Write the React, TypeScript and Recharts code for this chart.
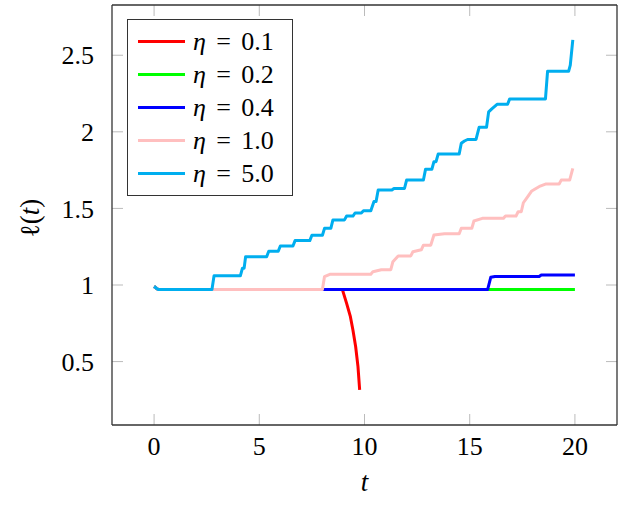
import { LineChart, Line, XAxis, YAxis, Legend, ReferenceLine } from "recharts";

// legend labels, ticks
const ETA_LABELS = ["0.1", "0.2", "0.4", "1.0", "5.0"];
const X_TICKS = [0, 5, 10, 15, 20];
const Y_TICKS = [0.5, 1, 1.5, 2, 2.5];
const X_DOMAIN: [number, number] = [-2, 22];
const Y_DOMAIN: [number, number] = [0.086, 2.828];

// [t, l(t)]
const ETA_01: [number, number][] = [
  [0, 0.99], [0.2, 0.97], [8.95, 0.97], [9.15, 0.88], [9.33, 0.793],
  [9.45, 0.706], [9.58, 0.597], [9.69, 0.467], [9.77, 0.315],
];

const ETA_02: [number, number][] = [
  [0, 0.99], [0.2, 0.97], [20, 0.97],
];

const ETA_04: [number, number][] = [
  [0, 0.99], [0.2, 0.97], [15.85, 0.97], [16.0, 1.05], [16.2, 1.055],
  [18.3, 1.055], [18.4, 1.065], [20, 1.065],
];

const ETA_10: [number, number][] = [
  [0, 0.99], [0.2, 0.97], [8.0, 0.97], [8.1, 1.055], [8.35, 1.07],
  [10.3, 1.07], [10.4, 1.087], [10.8, 1.1], [11.25, 1.1], [11.35, 1.152],
  [11.6, 1.19], [12.2, 1.19], [12.3, 1.217], [12.7, 1.23], [12.8, 1.26],
  [13.15, 1.26], [13.3, 1.326], [13.8, 1.335], [14.5, 1.335], [14.6, 1.37],
  [15.1, 1.37], [15.2, 1.418], [15.6, 1.435], [16.6, 1.435], [16.7, 1.45],
  [17.2, 1.45], [17.3, 1.478], [17.45, 1.478], [17.55, 1.537], [17.7, 1.566],
  [17.95, 1.614], [18.35, 1.646], [18.6, 1.659], [19.25, 1.659], [19.35, 1.685],
  [19.75, 1.685], [19.9, 1.762],
];

const ETA_50: [number, number][] = [
  [0, 0.99], [0.2, 0.97], [2.75, 0.97], [2.85, 1.06], [4.1, 1.06],
  [4.2, 1.11], [4.28, 1.11], [4.35, 1.185], [5.35, 1.185], [5.45, 1.22],
  [5.9, 1.22], [6.0, 1.255], [6.6, 1.255], [6.7, 1.29], [7.4, 1.29],
  [7.5, 1.325], [8.0, 1.325], [8.1, 1.37], [8.4, 1.37], [8.5, 1.425],
  [9.05, 1.425], [9.15, 1.45], [9.45, 1.45], [9.55, 1.47], [9.85, 1.47],
  [9.95, 1.485], [10.3, 1.485], [10.45, 1.545], [10.55, 1.545], [10.65, 1.62],
  [11.3, 1.62], [11.4, 1.63], [11.9, 1.63], [12.0, 1.685], [12.8, 1.685],
  [12.9, 1.755], [13.2, 1.755], [13.3, 1.805], [13.4, 1.805], [13.5, 1.855],
  [14.5, 1.855], [14.6, 1.925], [14.75, 1.94], [14.9, 1.95], [15.3, 1.95],
  [15.45, 2.03], [15.8, 2.03], [15.9, 2.13], [16.05, 2.15], [16.3, 2.18],
  [16.8, 2.18], [16.9, 2.215], [18.6, 2.215], [18.7, 2.395], [19.7, 2.395],
  [19.78, 2.435], [19.9, 2.6],
];

const COLORS = ["#ff0000", "#00ff00", "#0000ff", "#ffbfbf", "#00aeef"];
const FONT = "Liberation Serif";

const W = 624;
const H = 507;
const MARGIN = { top: 5, right: 7, bottom: 10, left: 0 };
const X_AXIS_H = 72;
const Y_AXIS_W = 112;
const PLOT_W = W - MARGIN.left - MARGIN.right - Y_AXIS_W;
const PLOT_H = H - MARGIN.top - MARGIN.bottom - X_AXIS_H;
const TICK_PX = 11;
// tick length in data units
const TDX = (TICK_PX * (X_DOMAIN[1] - X_DOMAIN[0])) / PLOT_W;
const TDY = (TICK_PX * (Y_DOMAIN[1] - Y_DOMAIN[0])) / PLOT_H;

const toRows = (pts: [number, number][]) => pts.map(([t, l]) => ({ t, l }));

const series = [ETA_01, ETA_02, ETA_04, ETA_10, ETA_50].map((pts, i) => ({
  name: ETA_LABELS[i],
  color: COLORS[i],
  data: toRows(pts),
}));

const tickStyle = { fill: "#000", fontSize: 26, fontFamily: FONT };
const FRAME = "#333";
const TICK_COLOR = "#bbb";

function LegendBox() {
  return (
    <div
      style={{
        width: 166,
        height: 177,
        boxSizing: "border-box",
        border: "1px solid #333",
        background: "#fff",
        padding: "5px 0 0 10px",
        fontFamily: FONT,
        fontSize: 26,
        color: "#000",
      }}
    >
      {series.map((s) => (
        <div key={s.name} style={{ display: "flex", alignItems: "center", height: 33, lineHeight: "33px" }}>
          <span style={{ display: "inline-block", width: 47, height: 3, background: s.color, marginRight: 8 }} />
          <span style={{ whiteSpace: "nowrap" }}>
            <i>η</i>
            <span style={{ margin: "0 0.4em" }}>=</span>
            {s.name}
          </span>
        </div>
      ))}
    </div>
  );
}

function YLabel(props: any) {
  const vb = props.viewBox || { x: 0, y: 5, height: 420 };
  const cx = vb.x + 38.5;
  const cy = vb.y + vb.height / 2 + 3;
  return (
    <text
      x={cx}
      y={cy}
      transform={`rotate(-90 ${cx} ${cy})`}
      textAnchor="middle"
      fontFamily={FONT}
      fontSize={27}
      fill="#000"
    >
      ℓ(<tspan fontStyle="italic">t</tspan>)
    </text>
  );
}

export default function App() {
  return (
    <div style={{ position: "absolute", left: 0, top: 0, background: "#fff" }}>
      <LineChart width={W} height={H} margin={MARGIN}>
        <XAxis
          xAxisId="b"
          type="number"
          dataKey="t"
          domain={X_DOMAIN}
          ticks={X_TICKS}
          allowDataOverflow
          height={X_AXIS_H}
          tickLine={false}
          tickMargin={6}
          tick={tickStyle}
          axisLine={{ stroke: FRAME, strokeWidth: 1.3 }}
          label={{
            value: "t",
            position: "insideBottom",
            offset: 6,
            style: { fontFamily: FONT, fontSize: 27, fontStyle: "italic", fill: "#000" },
          }}
        />
        <YAxis
          yAxisId="l"
          type="number"
          domain={Y_DOMAIN}
          ticks={Y_TICKS}
          allowDataOverflow
          width={Y_AXIS_W}
          tickLine={false}
          tickMargin={12}
          tick={tickStyle}
          axisLine={{ stroke: FRAME, strokeWidth: 1.3 }}
          label={(p: any) => <YLabel {...p} />}
        />
        {X_TICKS.map((x) => (
          <ReferenceLine
            key={`xb${x}`}
            xAxisId="b"
            yAxisId="l"
            ifOverflow="visible"
            stroke={TICK_COLOR}
            segment={[{ x, y: Y_DOMAIN[0] }, { x, y: Y_DOMAIN[0] + TDY }]}
          />
        ))}
        {X_TICKS.map((x) => (
          <ReferenceLine
            key={`xt${x}`}
            xAxisId="b"
            yAxisId="l"
            ifOverflow="visible"
            stroke={TICK_COLOR}
            segment={[{ x, y: Y_DOMAIN[1] }, { x, y: Y_DOMAIN[1] - TDY }]}
          />
        ))}
        {Y_TICKS.map((y) => (
          <ReferenceLine
            key={`yl${y}`}
            xAxisId="b"
            yAxisId="l"
            ifOverflow="visible"
            stroke={TICK_COLOR}
            segment={[{ x: X_DOMAIN[0], y }, { x: X_DOMAIN[0] + TDX, y }]}
          />
        ))}
        {Y_TICKS.map((y) => (
          <ReferenceLine
            key={`yr${y}`}
            xAxisId="b"
            yAxisId="l"
            ifOverflow="visible"
            stroke={TICK_COLOR}
            segment={[{ x: X_DOMAIN[1], y }, { x: X_DOMAIN[1] - TDX, y }]}
          />
        ))}
        <ReferenceLine xAxisId="b" yAxisId="l" y={Y_DOMAIN[1]} stroke={FRAME} strokeWidth={1.3} ifOverflow="visible" />
        <ReferenceLine xAxisId="b" yAxisId="l" x={X_DOMAIN[1]} stroke={FRAME} strokeWidth={1.3} ifOverflow="visible" />
        {series.map((s) => (
          <Line
            key={s.name}
            xAxisId="b"
            yAxisId="l"
            data={s.data}
            dataKey="l"
            name={s.name}
            type="linear"
            stroke={s.color}
            strokeWidth={3}
            strokeLinejoin="round"
            dot={false}
            activeDot={false}
            isAnimationActive={false}
          />
        ))}
        <Legend
          layout="vertical"
          align="center"
          verticalAlign="middle"
          content={() => <LegendBox />}
          wrapperStyle={{ left: 127, top: 19, width: 166, height: 177 }}
        />
      </LineChart>
    </div>
  );
}
